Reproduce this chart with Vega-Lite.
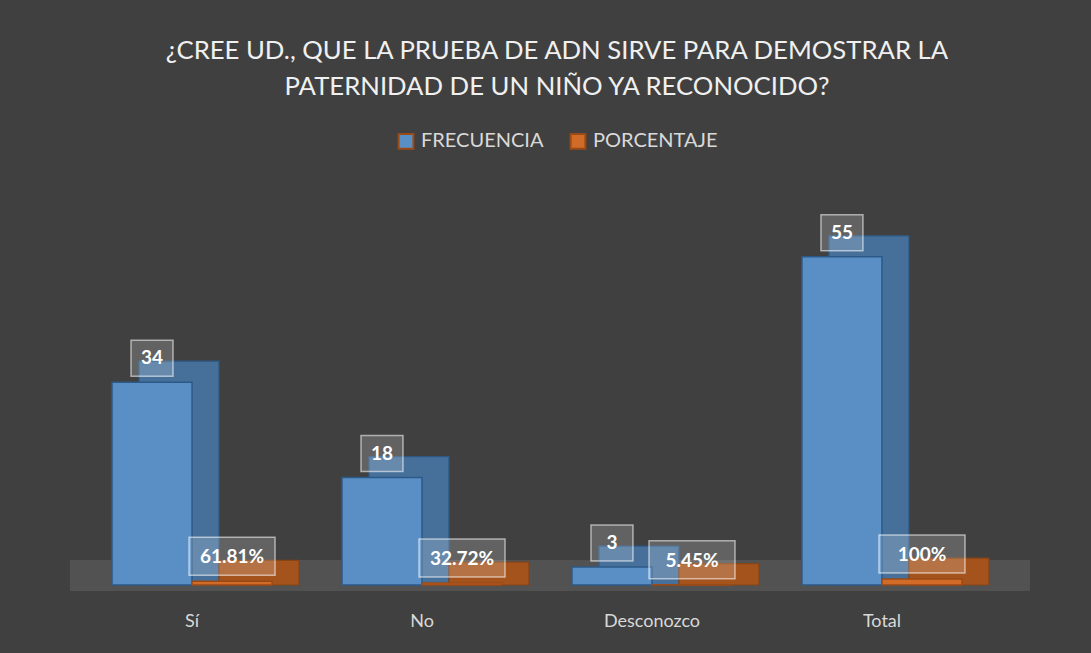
{
  "$schema": "https://vega.github.io/schema/vega-lite/v6.json",
  "width": 942,
  "height": 358,
  "autosize": {"type": "none"},
  "padding": {"left": 66, "top": 227, "right": 83, "bottom": 68},
  "background": "#404040",
  "title": {
    "text": ["¿CREE UD., QUE LA PRUEBA DE ADN SIRVE PARA DEMOSTRAR LA", "PATERNIDAD DE UN NIÑO YA RECONOCIDO?"],
    "anchor": "middle",
    "offset": 30,
    "dx": 20,
    "font": "Lato",
    "fontSize": 25.7,
    "fontWeight": "normal",
    "lineHeight": 36,
    "color": "#f0f0f0"
  },
  "config": {"view": {"stroke": null}},
  "data": {
    "values": [
      {"categoria": "Sí", "serie": "FRECUENCIA", "valor": 34, "etiqueta": "34"},
      {"categoria": "Sí", "serie": "PORCENTAJE", "valor": 0.6181, "etiqueta": "61.81%"},
      {"categoria": "No", "serie": "FRECUENCIA", "valor": 18, "etiqueta": "18"},
      {"categoria": "No", "serie": "PORCENTAJE", "valor": 0.3272, "etiqueta": "32.72%"},
      {"categoria": "Desconozco", "serie": "FRECUENCIA", "valor": 3, "etiqueta": "3"},
      {"categoria": "Desconozco", "serie": "PORCENTAJE", "valor": 0.0545, "etiqueta": "5.45%"},
      {"categoria": "Total", "serie": "FRECUENCIA", "valor": 55, "etiqueta": "55"},
      {"categoria": "Total", "serie": "PORCENTAJE", "valor": 1, "etiqueta": "100%"}
    ]
  },
  "resolve": {"scale": {"xOffset": "independent"}},
  "layer": [
    {
      "data": {"values": [{"piso": "piso"}]},
      "mark": {"type": "rect", "color": "#525252", "x2Offset": 22},
      "encoding": {
        "x": {"value": 4},
        "x2": {"value": "width"},
        "y": {"datum": -1, "type": "quantitative", "scale": {"domain": [0, 60], "nice": false}, "axis": null},
        "y2": {"datum": 4.2}
      }
    },
    {
      "encoding": {
        "x": {
          "field": "categoria",
          "type": "nominal",
          "sort": ["Sí", "No", "Desconozco", "Total"],
          "scale": {"paddingInner": 0.304, "paddingOuter": 0.2},
          "axis": {
            "title": null,
            "labelAngle": 0,
            "ticks": false,
            "domain": false,
            "labelPadding": 27,
            "labelFont": "Lato",
            "labelFontSize": 18,
            "labelColor": "#d9d9d9"
          }
        },
        "xOffset": {"field": "serie", "type": "nominal", "sort": ["FRECUENCIA", "PORCENTAJE"]},
        "y": {
          "field": "valor",
          "type": "quantitative",
          "scale": {"domain": [0, 60], "nice": false},
          "axis": null
        }
      },
      "resolve": {"scale": {"xOffset": "independent"}},
      "layer": [
        {
          "mark": {"type": "bar", "yOffset": -21, "strokeWidth": 1.2, "opacity": 0.95},
          "encoding": {
            "xOffset": {"field": "serie", "type": "nominal", "sort": ["FRECUENCIA", "PORCENTAJE"], "scale": {"range": [27, 187], "paddingInner": 0, "paddingOuter": 0}},
            "y2": {"datum": 0},
            "color": {
              "condition": {"test": "datum.serie === 'FRECUENCIA'", "value": "#47739f"},
              "value": "#a9541b"
            },
            "stroke": {
              "condition": {"test": "datum.serie === 'FRECUENCIA'", "value": "#2c5a88"},
              "value": "#8a4414"
            }
          }
        },
        {
          "mark": {"type": "bar", "strokeWidth": 1.5, "opacity": 1},
          "encoding": {
            "y2": {"datum": 0},
            "color": {
              "field": "serie",
              "type": "nominal",
              "scale": {"domain": ["FRECUENCIA", "PORCENTAJE"], "range": ["#5a8fc6", "#d06b28"]},
              "legend": {
                "title": null,
                "orient": "none",
                "direction": "horizontal",
                "legendX": 330,
                "legendY": -96,
                "symbolType": "square",
                "symbolSize": 220,
                "symbolStrokeWidth": 2,
                "labelFont": "Lato",
                "labelFontSize": 20,
                "labelColor": "#d9d9d9",
                "columnPadding": 22,
                "labelOffset": 5
              }
            },
            "stroke": {
              "condition": {"test": "datum.serie === 'FRECUENCIA'", "value": "#2c5a88"},
              "value": "#9a4a16"
            }
          }
        },
        {
          "transform": [{"filter": "datum.serie === 'FRECUENCIA'"}],
          "mark": {"type": "bar", "width": 42, "yOffset": -42, "y2Offset": -6, "fill": "#ffffff", "fillOpacity": 0.18, "stroke": "#ffffff", "strokeOpacity": 0.55, "strokeWidth": 1.5},
          "encoding": {
            "xOffset": {"field": "serie", "type": "nominal", "scale": {"domain": ["FRECUENCIA", "PORCENTAJE"]}},
            "y2": {"field": "valor"}
          }
        },
        {
          "transform": [{"filter": "datum.serie === 'PORCENTAJE'"}],
          "mark": {"type": "bar", "width": 86, "yOffset": -44, "y2Offset": -6, "fill": "#ffffff", "fillOpacity": 0.18, "stroke": "#ffffff", "strokeOpacity": 0.55, "strokeWidth": 1.5},
          "encoding": {
            "xOffset": {"field": "serie", "type": "nominal", "scale": {"domain": ["FRECUENCIA", "PORCENTAJE"]}},
            "y2": {"field": "valor"}
          }
        },
        {
          "mark": {"type": "text", "yOffset": -24, "baseline": "middle", "align": "center", "font": "Lato", "fontSize": 19, "fontWeight": "bold", "color": "#ffffff"},
          "encoding": {"text": {"field": "etiqueta", "type": "nominal"}}
        }
      ]
    }
  ]
}
